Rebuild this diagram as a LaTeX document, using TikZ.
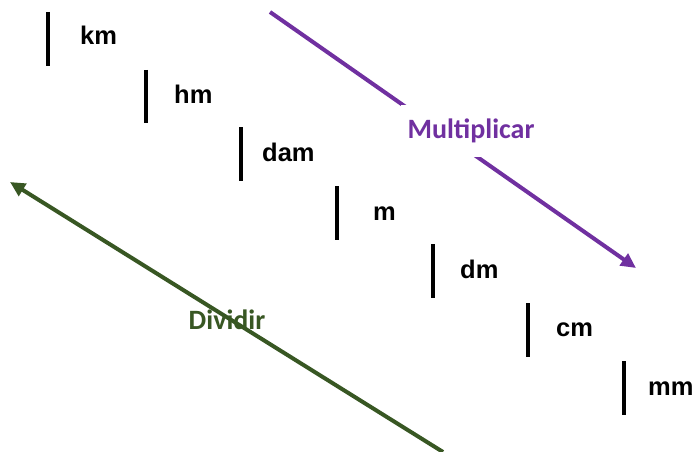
\documentclass[tikz,border=0pt]{standalone}
\usepackage{fontspec}
\setmainfont{Liberation Sans}
\newfontfamily\opfont{Carlito}
\usetikzlibrary{arrows.meta}
\definecolor{mulpurple}{HTML}{7030A0}
\definecolor{divgreen}{HTML}{385723}
\tikzset{
  unit/.style={anchor=base west,inner sep=0pt,font=\fontsize{25.5}{30}\selectfont\bfseries},
  bar/.style={line width=3.5pt},
  op/.style={line width=4pt,-{Triangle[length=15pt,width=14pt]}},
  oplabel/.style={font=\opfont\fontsize{28}{32}\selectfont\bfseries},
}
\begin{document}
\begin{tikzpicture}[x=1pt,y=-1pt]
\useasboundingbox (0,0) rectangle (696,452);
% one step down the ladder for each unit
\draw[bar] (48,12) -- (48,66);   \node[unit] (km)  at (80,45)  {km};
\draw[bar] (146,70) -- (146,123); \node[unit] (hm)  at (174,103) {hm};
\draw[bar] (241,127) -- (241,181); \node[unit] (dam) at (262,161) {dam};
\draw[bar] (337,186) -- (337,240); \node[unit] (m)   at (373,220) {m};
\draw[bar] (433,244) -- (433,298); \node[unit] (dm)  at (460,278) {dm};
\draw[bar] (528,303) -- (528,357); \node[unit] (cm)  at (556,336) {cm};
\draw[bar] (624,361) -- (624,415); \node[unit] (mm)  at (648,395) {mm};
% going down: multiply
\coordinate (mulstart) at (270,12);
\coordinate (mulend) at (636,268);
\draw[op,mulpurple] (mulstart) -- (mulend);
\node[oplabel,text=mulpurple,fill=white,inner xsep=7pt,inner ysep=14pt] (mul) at (471,131) {Multiplicar};
% going up: divide
\coordinate (divstart) at (443,452);
\coordinate (divend) at (10,182);
\draw[op,divgreen] (divstart) -- (divend);
\node[oplabel,text=divgreen] (div) at (227,320) {Dividir};
\end{tikzpicture}
\end{document}
